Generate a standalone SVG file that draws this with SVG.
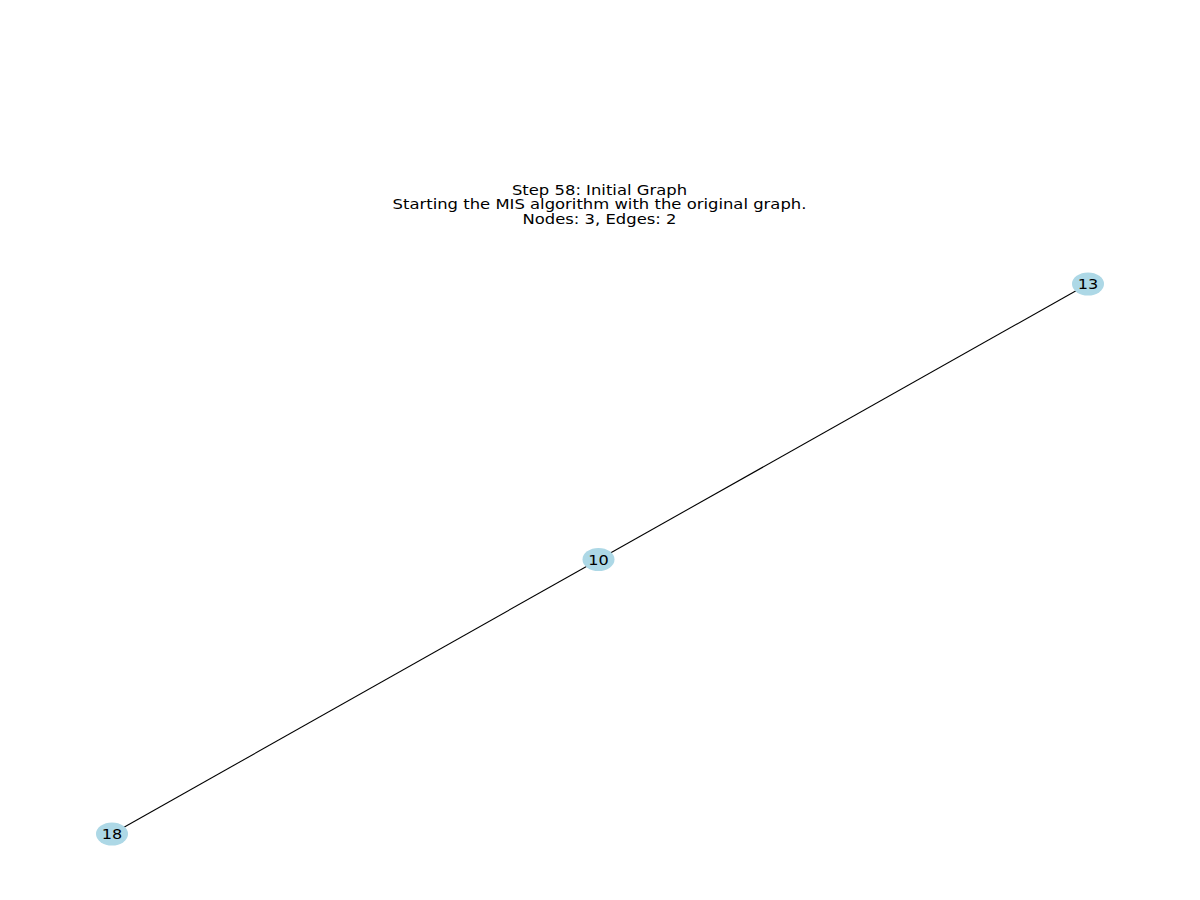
<svg xmlns="http://www.w3.org/2000/svg" width="1200" height="900" viewBox="0 0 1200 900">
<style>
.t{font-family:"DejaVu Sans",sans-serif;font-size:14px;fill:#000;text-anchor:middle}
.n{fill:#add8e6;stroke:none}
.l{font-family:"DejaVu Sans",sans-serif;font-size:14px;fill:#000;text-anchor:middle}
.e{stroke:#000;stroke-width:1.1;fill:none}
</style>
<rect width="1200" height="900" fill="#fff"/>
<g id="title" transform="translate(599.5,0) scale(1.173,1)">
<text class="t" x="0" y="195">Step 58: Initial Graph</text>
<text class="t" x="0" y="209.5">Starting the MIS algorithm with the original graph.</text>
<text class="t" x="0" y="224">Nodes: 3, Edges: 2</text>
</g>
<g id="edges">
<line class="e" x1="598" y1="560" x2="1088" y2="284"/>
<line class="e" x1="598" y1="560" x2="112" y2="834"/>
</g>
<g id="node-10">
<ellipse class="n" cx="598.5" cy="559.5" rx="16" ry="11.5"/>
<text class="l" transform="translate(598.5,564.5) scale(1.15,1)">10</text>
</g>
<g id="node-13">
<ellipse class="n" cx="1088" cy="284" rx="16" ry="11.5"/>
<text class="l" transform="translate(1088,289) scale(1.15,1)">13</text>
</g>
<g id="node-18">
<ellipse class="n" cx="112" cy="834" rx="16" ry="11.5"/>
<text class="l" transform="translate(112,839) scale(1.15,1)">18</text>
</g>
</svg>
